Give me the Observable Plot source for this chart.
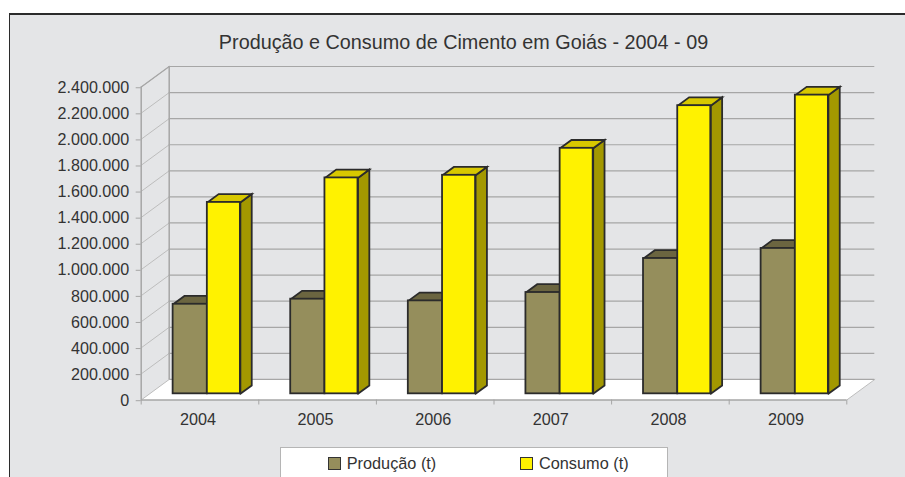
<!DOCTYPE html>
<html><head><meta charset="utf-8">
<script src="https://cdn.jsdelivr.net/npm/d3@7"></script>
<script src="https://cdn.jsdelivr.net/npm/@observablehq/plot@0.6"></script>
<style>
html,body{margin:0;padding:0;background:#fff;width:905px;height:477px;overflow:hidden;font-family:"Liberation Sans",Arial,sans-serif;}
#card{position:absolute;left:9px;top:13px;width:896px;height:464px;box-sizing:border-box;border-top:2px solid #2b2b2b;border-left:1.5px solid #2b2b2b;background:#e4e5e7;}
#title{position:absolute;left:0;width:905px;top:30px;text-align:center;padding-left:22px;box-sizing:border-box;font-size:19.8px;line-height:24px;color:#333;}
#chart{position:absolute;left:0;top:56px;}
#legend{position:absolute;left:280px;top:447px;width:388px;height:30px;box-sizing:border-box;background:#fff;border:1px solid #b5b5b5;border-bottom:none;font-size:16.3px;color:#333;}
#legend span{position:absolute;top:5px;line-height:20px;white-space:nowrap;}
#legend i{position:absolute;top:8.5px;width:13px;height:13px;box-sizing:border-box;border:1.5px solid #333;}
</style></head><body>
<div id="card"></div>
<div id="title"></div>
<div id="chart"></div>
<div id="legend"></div>
<script>
const titleText = "Produção e Consumo de Cimento em Goiás - 2004 - 09";
const years = ["2004","2005","2006","2007","2008","2009"];
const producao = [687000,726000,713000,777000,1038000,1115000];
const consumo = [1468000,1656000,1676000,1883000,2210000,2291000];
const seriesNames = ["Produção (t)","Consumo (t)"];
const yTicks = d3.range(0,2400001,200000);

const colors = {
  prodFront:"#958e5c", prodTop:"#6b6540",
  consFront:"#fff200", consTop:"#d8c800", consSide:"#a39800",
  line:"#2b2b2b", grid:"#a6a6a6", gridLight:"#bdbdbd", text:"#333"
};
const chartTop = 56;
const n = years.length;
const catPx = 117.6, xLeft = 140.7;
const depthX = 28/catPx;
const pxPerUnit = 130/1e6;
const depthY = 20.5/pxPerUnit;
const yMax = 2400000;
const w = 905, baseY = 399.5, topY = 66;

const num = d3.format(",d");
const fmt = v => num(v).replace(/,/g,".");

// project a (category-position, value, depth fraction) onto the chart plane
const P = (c,v,d) => ({x:c + d*depthX, y:v + d*depthY});
const dFront=.30, dBack=.705;
const x0=.2, xm=.491, x1=.772;

const poly = (pts,id)=>[...pts,pts[0]].map(p=>({...p,id}));
const floor = poly([P(0,0,0),P(n,0,0),P(n,0,1),P(0,0,1)],"floor");
const topFace = (i,a,b,v)=>poly([P(i+a,v,dFront),P(i+b,v,dFront),P(i+b,v,dBack),P(i+a,v,dBack)],i);
const sideFace = (i,b,v)=>poly([P(i+b,0,dFront),P(i+b,v,dFront),P(i+b,v,dBack),P(i+b,0,dBack)],i);
const prodTops = producao.flatMap((v,i)=>topFace(i,x0,xm,v));
const consTops = consumo.flatMap((v,i)=>topFace(i,xm,x1,v));
const consSides = consumo.flatMap((v,i)=>sideFace(i,x1,v));
const wallLines = yTicks.flatMap(v=>[{...P(0,v,0),id:v},{...P(0,v,1),id:v}]);
const fronts = (vals,a,b)=>vals.map((v,i)=>({
  x1:i+a+dFront*depthX, x2:i+b+dFront*depthX, y1:dFront*depthY, y2:v+dFront*depthY}));
const face = (data,fill)=>Plot.line(data,{x:"x",y:"y",z:"id",fill,stroke:colors.line,strokeWidth:1.8,strokeLinejoin:"miter",strokeMiterlimit:4});

const chart = Plot.plot({
  width:w, height:370,
  marginLeft:xLeft, marginRight:w-xLeft-(n+depthX)*catPx,
  marginTop:topY-chartTop, marginBottom:370-(baseY-chartTop),
  style:{background:"transparent",fontFamily:'"Liberation Sans",Arial,sans-serif',fontSize:"16px",color:colors.text,overflow:"visible"},
  x:{domain:[0,n+depthX]},
  y:{domain:[0,yMax+depthY]},
  marks:[
    // floor
    Plot.line(floor,{x:"x",y:"y",z:"id",fill:"#fff",stroke:null}),
    Plot.line([P(n,0,0),P(n,0,1)],{x:"x",y:"y",stroke:colors.gridLight,strokeWidth:1}),
    // back wall gridlines
    Plot.ruleY(yTicks,{y:v=>v+depthY,x1:depthX,x2:n+depthX,stroke:colors.grid,strokeWidth:1.2}),
    // side wall
    Plot.line(wallLines,{x:"x",y:"y",z:"id",stroke:colors.gridLight,strokeWidth:1}),
    Plot.ruleX([depthX],{y1:depthY,y2:yMax+depthY,stroke:colors.grid,strokeWidth:1.5}),
    Plot.ruleX([0],{y1:0,y2:yMax,stroke:colors.grid,strokeWidth:1.5}),
    Plot.line([P(0,yMax,0),P(0,yMax,1)],{x:"x",y:"y",stroke:colors.grid,strokeWidth:1.2}),
    // front axis
    Plot.ruleY([0],{x1:0,x2:n,stroke:colors.grid,strokeWidth:1.5}),
    Plot.axisY({ticks:yTicks,tickFormat:fmt,tickSize:5,tickPadding:7,label:null,stroke:colors.grid,fill:colors.text,fontSize:16.1,anchor:"left",textStroke:"none",dy:0.7}),
    Plot.axisX({ticks:d3.range(0,n+1),tickFormat:()=>"",tickSize:5,label:null,stroke:colors.grid}),
    Plot.axisX({ticks:d3.range(0,n).map(i=>i+.5),tickFormat:c=>years[Math.floor(c)],tickSize:0,tickPadding:13,label:null,fill:colors.text,fontSize:16.2,dx:-2}),
    // bars
    face(consSides,colors.consSide),
    face(prodTops,colors.prodTop),
    face(consTops,colors.consTop),
    Plot.rect(fronts(producao,x0,xm),{x1:"x1",x2:"x2",y1:"y1",y2:"y2",fill:colors.prodFront,stroke:colors.line,strokeWidth:1.8}),
    Plot.rect(fronts(consumo,xm,x1),{x1:"x1",x2:"x2",y1:"y1",y2:"y2",fill:colors.consFront,stroke:colors.line,strokeWidth:1.8})
  ]
});
document.getElementById("chart").append(chart);
document.getElementById("title").textContent = titleText;
const legend = document.getElementById("legend");
[[46.5,65.7,colors.prodFront],[239,258,colors.consFront]].forEach(([sx,tx,c],i)=>{
  const sw=document.createElement("i"); sw.style.left=sx+"px"; sw.style.background=c; legend.append(sw);
  const t=document.createElement("span"); t.style.left=tx+"px"; t.textContent=seriesNames[i]; legend.append(t);
});
</script>
</body></html>
